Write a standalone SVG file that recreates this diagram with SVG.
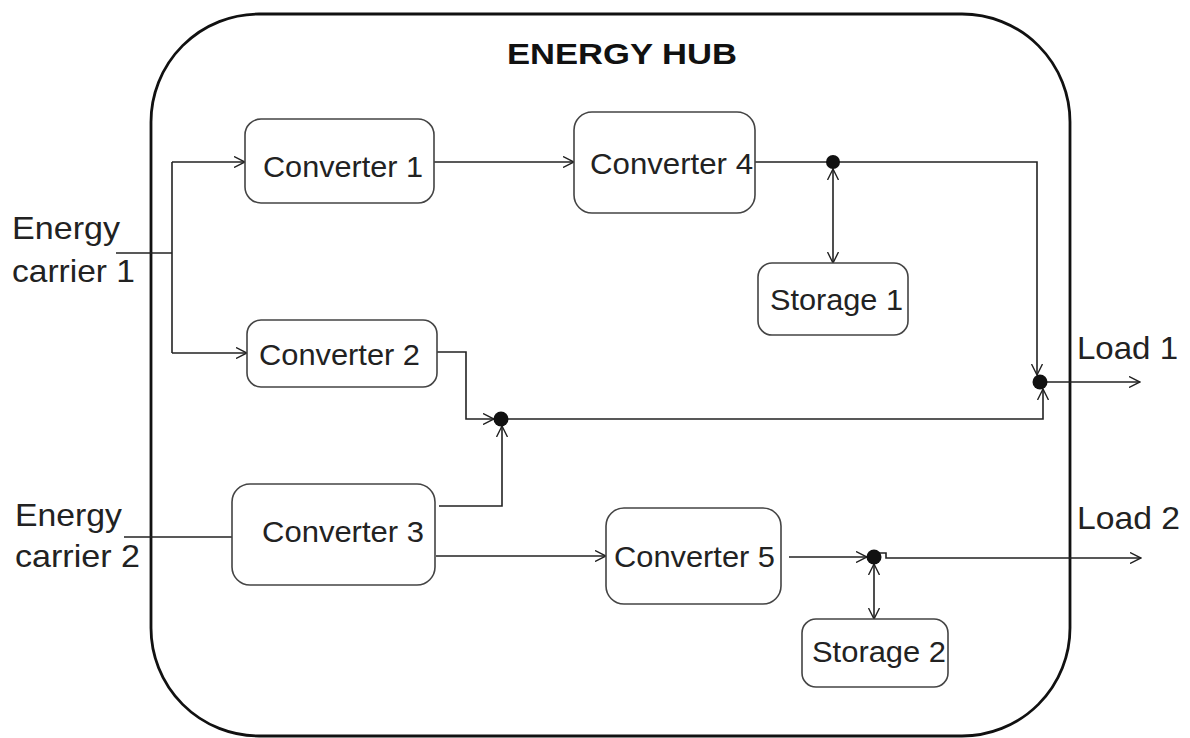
<svg xmlns="http://www.w3.org/2000/svg" width="1190" height="738" viewBox="0 0 1190 738">
<defs>
<marker id="arr" viewBox="0 0 12 12" refX="11" refY="6" markerWidth="12" markerHeight="12" markerUnits="userSpaceOnUse" orient="auto-start-reverse">
<path d="M0,0.5 L11,6 L0,11.5" fill="none" stroke="#222" stroke-width="1.4"/>
</marker>
<style>
.hub{fill:none;stroke:#111;stroke-width:2.8}
.box{fill:#fff;stroke:#444;stroke-width:1.6}
.ln{fill:none;stroke:#222;stroke-width:1.6}
.t{font-family:"Liberation Sans",Arial,sans-serif;font-size:30px;fill:#222}
.lab{font-family:"Liberation Sans",Arial,sans-serif;font-size:32px;fill:#222}
.dot{fill:#111}
</style>
</defs>
<rect width="1190" height="738" fill="#fff"/>
<g id="hub">
<rect class="hub" x="151" y="14" width="919" height="722" rx="108" ry="108"/>
<text x="507" y="64" font-family="Liberation Sans,Arial,sans-serif" font-weight="bold" font-size="30" fill="#111" textLength="230" lengthAdjust="spacingAndGlyphs">ENERGY HUB</text>
</g>
<g id="connectors">
<path class="ln" d="M116,253 H172"/>
<path class="ln" d="M172,162 V353"/>
<path class="ln" d="M172,162 H245" marker-end="url(#arr)"/>
<path class="ln" d="M172,353 H247" marker-end="url(#arr)"/>
<path class="ln" d="M434,162 H574" marker-end="url(#arr)"/>
<path class="ln" d="M755,162 H1037 V375" marker-end="url(#arr)"/>
<path class="ln" d="M833,169 V263" marker-start="url(#arr)" marker-end="url(#arr)"/>
<path class="ln" d="M1040,382 H1140" marker-end="url(#arr)"/>
<path class="ln" d="M501,419 H1043 V389" marker-end="url(#arr)"/>
<path class="ln" d="M437,352 H466 V419 H494" marker-end="url(#arr)"/>
<path class="ln" d="M439,506 H502 V426" marker-end="url(#arr)"/>
<path class="ln" d="M124,537 H232"/>
<path class="ln" d="M436,556 H606" marker-end="url(#arr)"/>
<path class="ln" d="M789,557 H867" marker-end="url(#arr)"/>
<path class="ln" d="M876,553 H886 V558 H1141" marker-end="url(#arr)"/>
<path class="ln" d="M874,564 V619" marker-start="url(#arr)" marker-end="url(#arr)"/>
<circle class="dot" cx="833" cy="162" r="7"/>
<circle class="dot" cx="1040" cy="382" r="7.5"/>
<circle class="dot" cx="501" cy="419" r="7.5"/>
<circle class="dot" cx="874" cy="557" r="7.5"/>
</g>
<g id="conv1">
<rect class="box" x="245" y="119" width="189" height="84" rx="16"/>
<text class="t" x="263" y="177" textLength="160" lengthAdjust="spacingAndGlyphs">Converter 1</text>
</g>
<g id="conv2">
<rect class="box" x="247" y="320" width="190" height="67" rx="14"/>
<text class="t" x="259" y="365" textLength="161" lengthAdjust="spacingAndGlyphs">Converter 2</text>
</g>
<g id="conv4">
<rect class="box" x="574" y="112" width="181" height="101" rx="18"/>
<text class="t" x="590" y="174" textLength="163" lengthAdjust="spacingAndGlyphs">Converter 4</text>
</g>
<g id="storage1">
<rect class="box" x="758" y="263" width="150" height="72" rx="14"/>
<text class="t" x="770" y="310" textLength="133" lengthAdjust="spacingAndGlyphs">Storage 1</text>
</g>
<g id="conv3">
<rect class="box" x="232" y="484" width="203" height="101" rx="18"/>
<text class="t" x="262" y="542" textLength="162" lengthAdjust="spacingAndGlyphs">Converter 3</text>
</g>
<g id="conv5">
<rect class="box" x="606" y="508" width="175" height="96" rx="18"/>
<text class="t" x="614" y="567" textLength="161" lengthAdjust="spacingAndGlyphs">Converter 5</text>
</g>
<g id="storage2">
<rect class="box" x="802" y="619" width="146" height="68" rx="14"/>
<text class="t" x="812" y="662" textLength="134" lengthAdjust="spacingAndGlyphs">Storage 2</text>
</g>
<g id="carrier1">
<text class="lab" x="12" y="239" textLength="108" lengthAdjust="spacingAndGlyphs">Energy</text>
<text class="lab" x="12" y="282" textLength="123" lengthAdjust="spacingAndGlyphs">carrier 1</text>
</g>
<g id="carrier2">
<text class="lab" x="15" y="526" textLength="107" lengthAdjust="spacingAndGlyphs">Energy</text>
<text class="lab" x="15" y="567" textLength="125" lengthAdjust="spacingAndGlyphs">carrier 2</text>
</g>
<g id="load1">
<text class="lab" x="1077" y="359" font-size="33" textLength="101" lengthAdjust="spacingAndGlyphs">Load 1</text>
</g>
<g id="load2">
<text class="lab" x="1077" y="529" font-size="33" textLength="103" lengthAdjust="spacingAndGlyphs">Load 2</text>
</g>
</svg>
